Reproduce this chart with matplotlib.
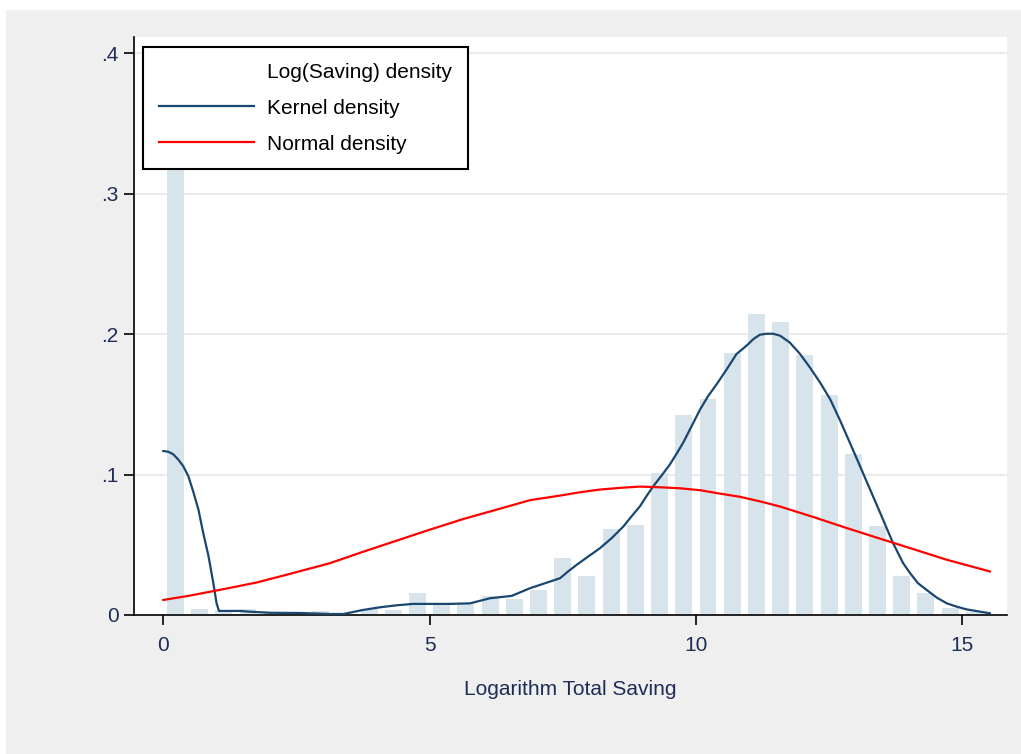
import numpy as np
import matplotlib
matplotlib.use('Agg')
import matplotlib.pyplot as plt
from matplotlib.patches import Rectangle, Patch
from matplotlib.lines import Line2D

plt.rcParams['font.family'] = ['Liberation Sans', 'DejaVu Sans']

# histogram of log saving (34 bins starting at 0)
bin_start = 0.0
bin_width = 0.4545
bar_heights = [0.330, 0.0040, 0.0036, 0.0043, 0.0021, 0.0024, 0.0030, 0.0010,
               0.0040, 0.0036, 0.0160, 0.0076, 0.0079, 0.0138, 0.0114, 0.0179,
               0.0405, 0.0279, 0.0612, 0.0643, 0.1012, 0.1424, 0.1536, 0.1864,
               0.2143, 0.2088, 0.1850, 0.1567, 0.1143, 0.0631, 0.0279, 0.0160,
               0.0052, 0.0024]

# kernel density
kde_x = [0, 0.094, 0.19, 0.28, 0.375, 0.47, 0.56, 0.66, 0.75, 0.85, 0.94, 1.0,
         1.045, 1.44, 1.6, 2.0, 2.6, 3.13, 3.38, 3.75, 4.07, 4.38, 4.69, 5.0,
         5.38, 5.76, 6.13, 6.54, 6.88, 7.45, 7.6, 7.76, 7.98, 8.2, 8.42, 8.64,
         8.79, 8.95, 9.07, 9.2, 9.36, 9.51, 9.64, 9.76, 9.92, 10.08, 10.23,
         10.39, 10.58, 10.76, 10.95, 11.08, 11.2, 11.33, 11.45, 11.58, 11.76,
         11.95, 12.14, 12.33, 12.52, 12.7, 12.89, 13.08, 13.27, 13.46, 13.7,
         13.89, 14.02, 14.17, 14.33, 14.52, 14.71, 14.89, 15.08, 15.52]
kde_y = [0.1167, 0.1162, 0.1143, 0.1107, 0.1059, 0.0988, 0.0881, 0.075, 0.0583,
         0.0417, 0.0226, 0.0084, 0.0029, 0.0029, 0.0024, 0.0016, 0.0014, 0.0007,
         0.0007, 0.0036, 0.0055, 0.0069, 0.0079, 0.0079, 0.0079, 0.0083, 0.0119,
         0.0136, 0.019, 0.0262, 0.031, 0.0357, 0.0417, 0.0476, 0.0548, 0.0631,
         0.0702, 0.0774, 0.0845, 0.0917, 0.0995, 0.1071, 0.115, 0.1226, 0.1345,
         0.1464, 0.1559, 0.1643, 0.175, 0.1857, 0.1917, 0.1964, 0.1995, 0.2002,
         0.2002, 0.1988, 0.1940, 0.1860, 0.1762, 0.1655, 0.1536, 0.139, 0.1226,
         0.106, 0.0893, 0.0726, 0.0512, 0.0369, 0.0298, 0.0226, 0.0179, 0.0124,
         0.0083, 0.0060, 0.004, 0.0012]

# normal density
norm_x = [0, 0.5, 1.13, 1.75, 2.38, 3.13, 3.75, 4.38, 5.0, 5.63, 6.26, 6.88,
          7.45, 7.83, 8.2, 8.58, 8.95, 9.33, 9.7, 10.08, 10.45, 10.83, 11.2,
          11.58, 12.2, 12.83, 13.46, 14.08, 14.71, 15.52]
norm_y = [0.0107, 0.0138, 0.0184, 0.0231, 0.0293, 0.0369, 0.045, 0.0529, 0.0607,
          0.0683, 0.075, 0.0817, 0.085, 0.0874, 0.0893, 0.0905, 0.0914, 0.0909,
          0.0902, 0.0888, 0.0864, 0.0841, 0.0809, 0.0772, 0.0698, 0.0619,
          0.0543, 0.0469, 0.0393, 0.031]

yticks = [0, 0.1, 0.2, 0.3, 0.4]
ytick_labels = ['0', '.1', '.2', '.3', '.4']
xticks = [0, 5, 10, 15]

W, H = 1021, 754
fig = plt.figure(figsize=(W / 100, H / 100), dpi=100, facecolor='white')
fig.patches.append(Rectangle((6 / W, 0), 1 - 6 / W, 1 - 10 / H, transform=fig.transFigure,
                             facecolor='#efefef', edgecolor='none', zorder=-10))

ax = fig.add_axes([134 / W, 1 - 615 / H, (1007 - 134) / W, (615 - 37) / H])
ax.set_facecolor('white')

centers = bin_start + (np.arange(len(bar_heights)) + 0.5) * bin_width
ax.bar(centers, bar_heights, width=bin_width * 0.7, color='#d8e4ec', linewidth=0, zorder=1)
ax.plot(kde_x, kde_y, color='#1a476f', linewidth=1.6, zorder=3)
ax.plot(norm_x, norm_y, color='#ff0000', linewidth=1.6, zorder=3)

ax.set_xlim(-0.55, 15.84)
ax.set_ylim(0, 0.4114)
ax.set_yticks(yticks)
ax.set_yticklabels(ytick_labels)
ax.set_xticks(xticks)
ax.grid(axis='y', color='#eaeaea', linewidth=1.5)
ax.set_axisbelow(True)

for s in ['top', 'right']:
    ax.spines[s].set_visible(False)
for s in ['left', 'bottom']:
    ax.spines[s].set_color('black')
    ax.spines[s].set_linewidth(1.2)

navy = '#1f2d56'
ax.tick_params(axis='both', direction='out', length=7, width=1.2, color='black',
               labelsize=15, labelcolor=navy)
ax.tick_params(axis='x', pad=8)
ax.tick_params(axis='y', pad=4)
ax.set_xlabel('Logarithm Total Saving', fontsize=15, color=navy, labelpad=18)

handles = [Patch(facecolor='none', edgecolor='none'),
           Line2D([], [], color='#1a476f', linewidth=1.6),
           Line2D([], [], color='#ff0000', linewidth=1.6)]
labels = ['Log(Saving) density', 'Kernel density', 'Normal density']
leg = ax.legend(handles, labels, loc='upper left', bbox_to_anchor=(143 / W, 1 - 47 / H),
                bbox_transform=fig.transFigure, borderaxespad=0, fontsize=15,
                fancybox=False, framealpha=1, edgecolor='black', handlelength=4.6,
                handletextpad=0.62, labelspacing=0.82, borderpad=0.75)
leg.get_frame().set_linewidth(1.5)
leg.set_zorder(5)

fig.savefig('out.png', dpi=100, facecolor=fig.get_facecolor())
